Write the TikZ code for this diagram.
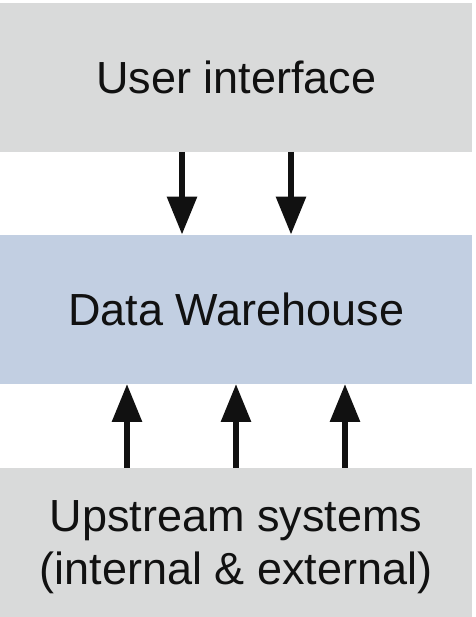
\documentclass[tikz,border=0pt]{standalone}
\usepackage{fontspec}
\setmainfont{Liberation Sans}
\usetikzlibrary{arrows.meta}
\definecolor{boxgray}{HTML}{D9DADA}
\definecolor{boxblue}{HTML}{C2CFE2}
\definecolor{ink}{HTML}{111111}
\begin{document}
\begin{tikzpicture}[x=1pt,y=1pt,
  layer/.style={draw=none,minimum width=472pt,minimum height=149pt,inner sep=0pt,anchor=south west,
    text=ink,font=\fontsize{45}{52}\selectfont,align=center},
  lbl/.style={text=ink,font=\fontsize{45}{53}\selectfont,align=center,inner sep=0pt},
  arr/.style={draw=ink,line width=6pt,-{Triangle[length=38pt,width=29pt]}}]
\useasboundingbox (0,0) rectangle (475,617);
\node[layer,fill=boxgray] (ui) at (0,465) {User interface};
\node[layer,fill=boxblue] (dw) at (0,233) {Data Warehouse};
\node[layer,fill=boxgray] (up) at (0,0) {};
\node[lbl] (uptext) at ([yshift=-5pt]up.center) {Upstream systems\\(internal \& external)};
\coordinate (d1) at (182,0);
\coordinate (d2) at (291,0);
\coordinate (u1) at (127,0);
\coordinate (u2) at (236,0);
\coordinate (u3) at (345,0);
\draw[arr] (ui.south -| d1) -- (dw.north -| d1);
\draw[arr] (ui.south -| d2) -- (dw.north -| d2);
\draw[arr] (up.north -| u1) -- (dw.south -| u1);
\draw[arr] (up.north -| u2) -- (dw.south -| u2);
\draw[arr] (up.north -| u3) -- (dw.south -| u3);
\end{tikzpicture}
\end{document}
